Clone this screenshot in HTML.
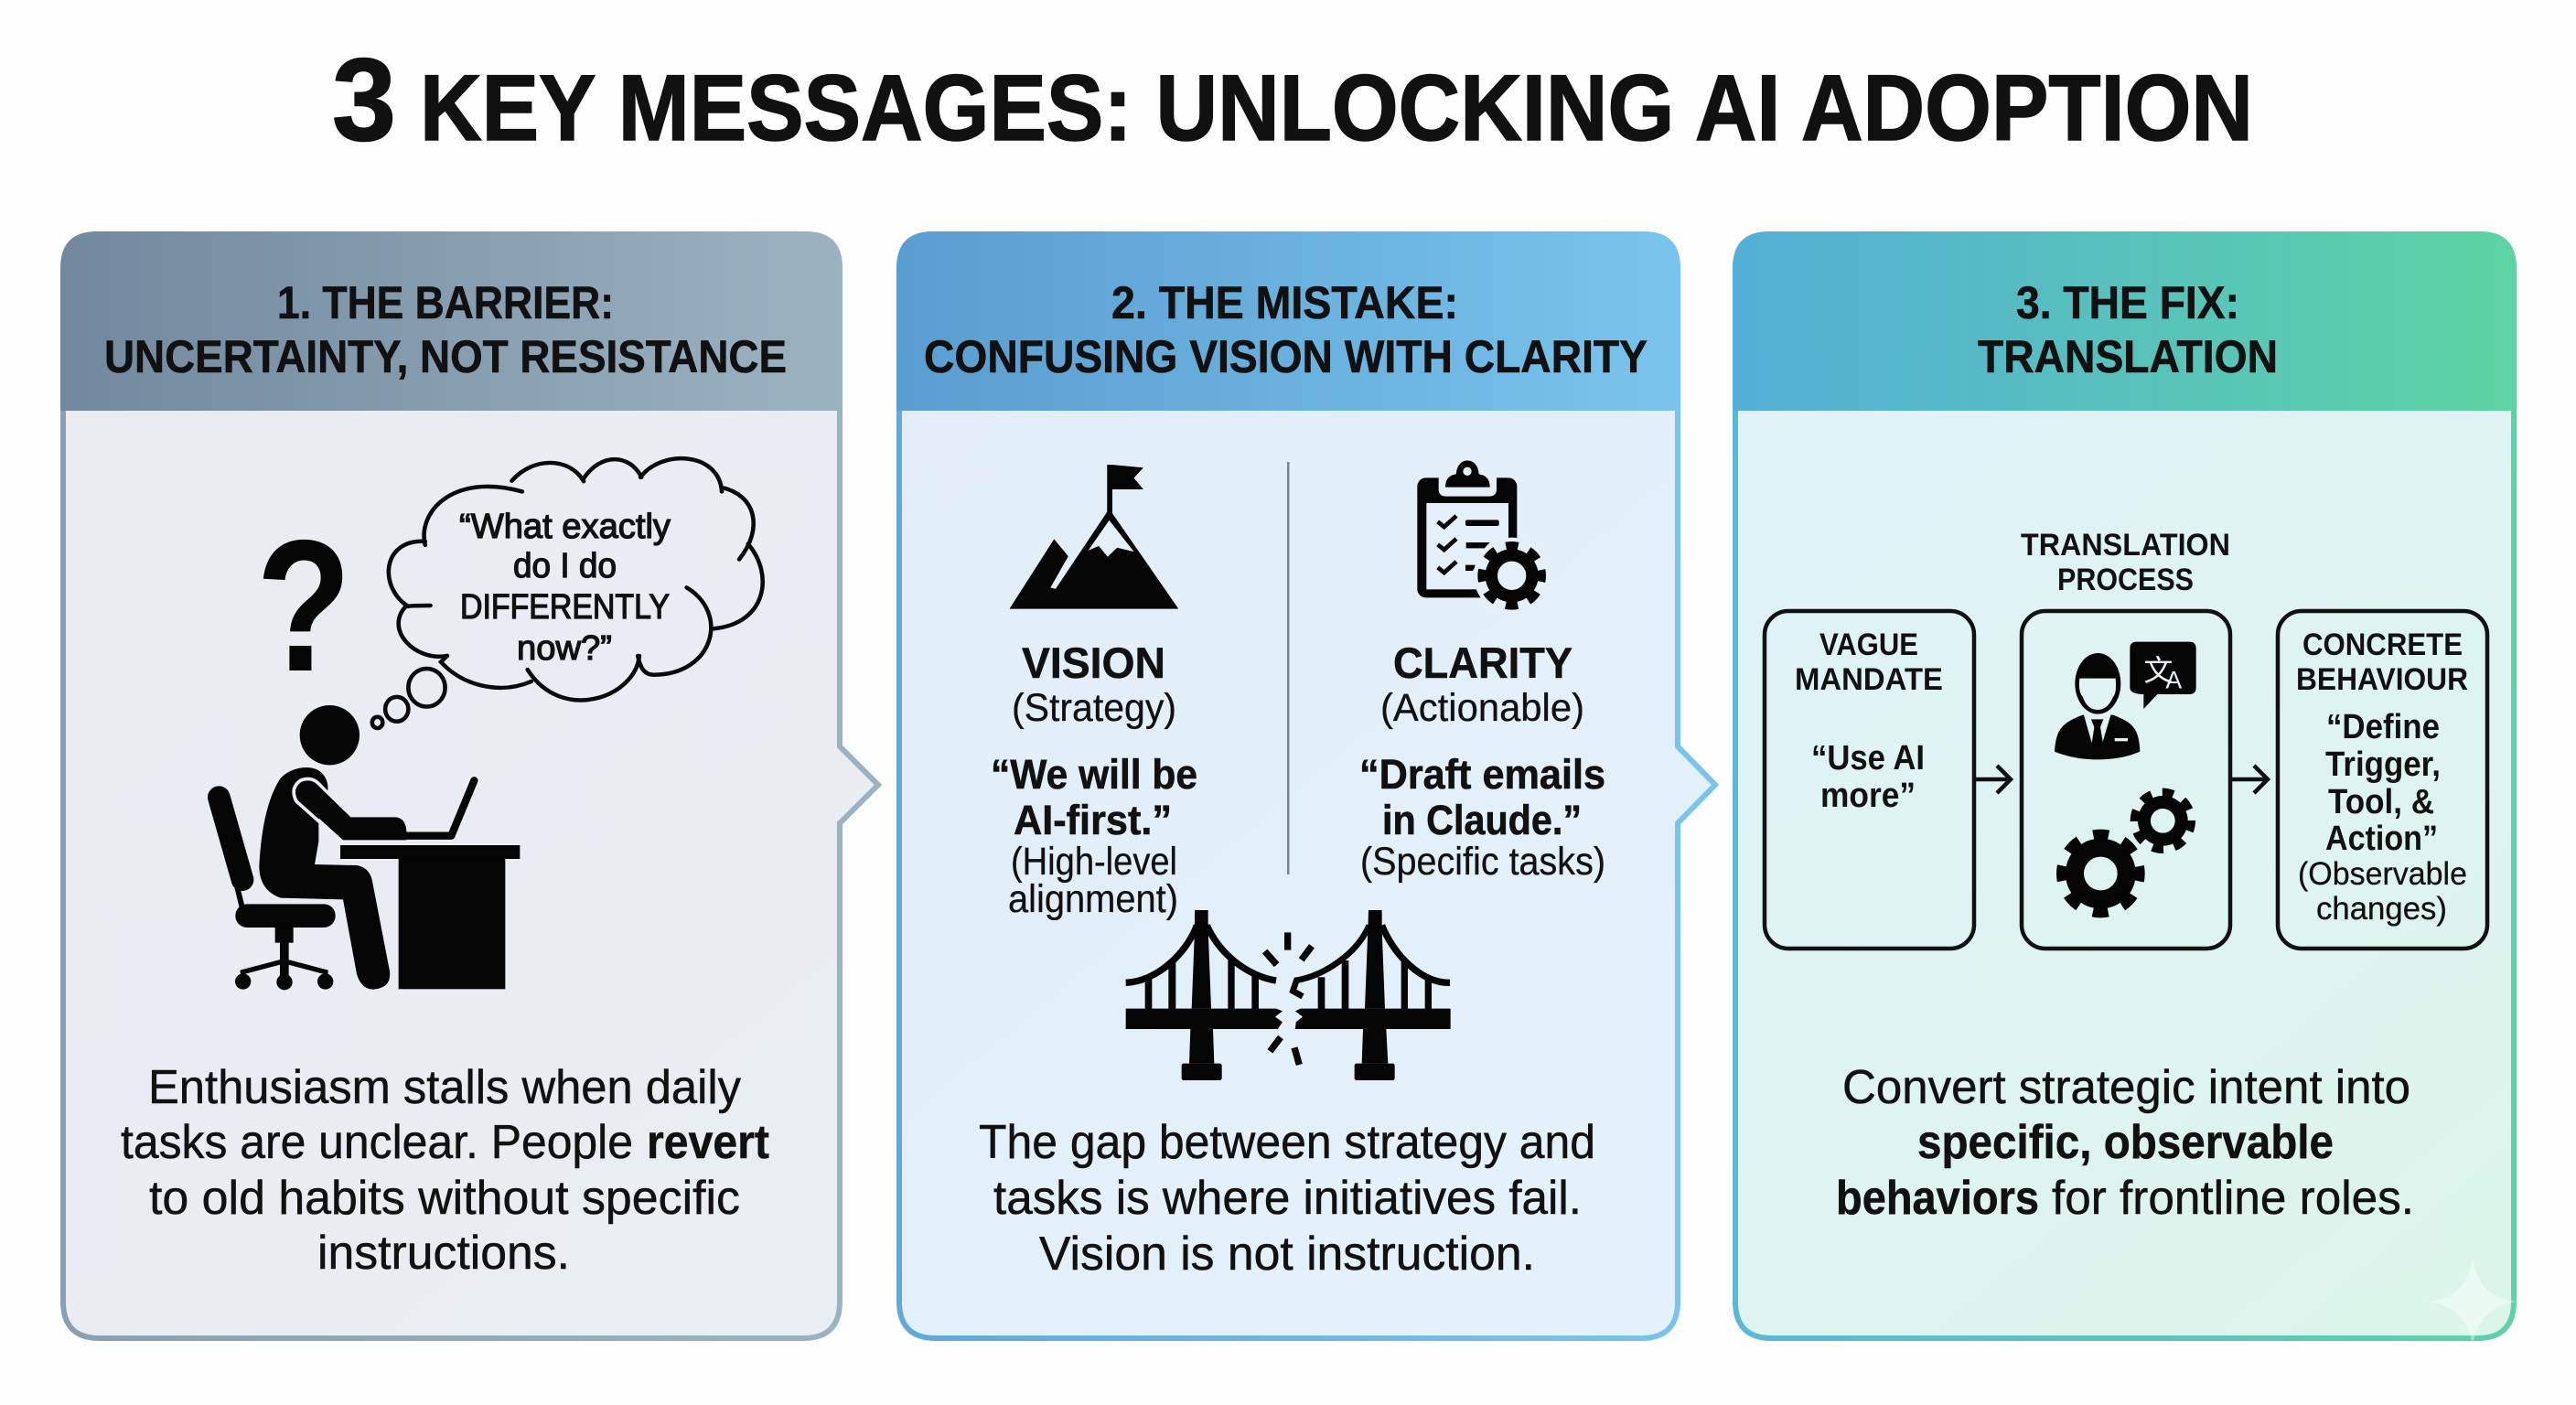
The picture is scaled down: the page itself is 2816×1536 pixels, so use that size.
<!DOCTYPE html>
<html><head><meta charset="utf-8"><style>
html,body{margin:0;padding:0;background:#fefefe;width:2816px;height:1536px;overflow:hidden}
svg{display:block}
text{font-family:"Liberation Sans","Noto Sans CJK SC",sans-serif;fill:#111}
.h{font-size:50px;font-weight:700;stroke:#111;stroke-width:.6}
.b{font-size:52px;stroke:#111;stroke-width:.5}
.bb{font-size:52px;font-weight:700;stroke:#111;stroke-width:.5}
.c{font-size:38px;stroke:#111;stroke-width:1.3}
.t{font-size:47px;font-weight:700;stroke:#111;stroke-width:.5}
.s{font-size:43px;stroke:#111;stroke-width:.3}
.q{font-size:45px;font-weight:700;stroke:#111;stroke-width:.6}
.l{font-size:34px;font-weight:700}
.m{font-size:38px;font-weight:700}
.o{font-size:35px;stroke:#111;stroke-width:.3}
</style></head><body>
<svg width="2816" height="1536" viewBox="0 0 2816 1536" xmlns="http://www.w3.org/2000/svg">
<defs>
<linearGradient id="h1" gradientUnits="userSpaceOnUse" x1="66" y1="0" x2="921" y2="0"><stop offset="0" stop-color="#71889e"/><stop offset="1" stop-color="#9bb3c1"/></linearGradient>
<linearGradient id="h2" gradientUnits="userSpaceOnUse" x1="980" y1="0" x2="1837" y2="0"><stop offset="0" stop-color="#5a9dd0"/><stop offset="1" stop-color="#79c4ec"/></linearGradient>
<linearGradient id="h3" gradientUnits="userSpaceOnUse" x1="1894" y1="0" x2="2751" y2="0"><stop offset="0" stop-color="#53afd6"/><stop offset="1" stop-color="#5dd3a2"/></linearGradient>
<linearGradient id="s1" gradientUnits="userSpaceOnUse" x1="66" y1="0" x2="921" y2="0"><stop offset="0" stop-color="#8aa0b2"/><stop offset="1" stop-color="#9bb3c1"/></linearGradient>
<linearGradient id="s2" gradientUnits="userSpaceOnUse" x1="980" y1="0" x2="1837" y2="0"><stop offset="0" stop-color="#62a8d8"/><stop offset="1" stop-color="#79c4ec"/></linearGradient>
<linearGradient id="s3" gradientUnits="userSpaceOnUse" x1="1894" y1="0" x2="2751" y2="0"><stop offset="0" stop-color="#5ab7d6"/><stop offset="1" stop-color="#5dd3a6"/></linearGradient>
<linearGradient id="f1" gradientUnits="userSpaceOnUse" x1="66" y1="449" x2="921" y2="1466"><stop offset="0" stop-color="#e9ebf1"/><stop offset="1" stop-color="#e9eef2"/></linearGradient>
<linearGradient id="f2" gradientUnits="userSpaceOnUse" x1="980" y1="449" x2="1837" y2="1466"><stop offset="0" stop-color="#e2edf8"/><stop offset="1" stop-color="#e3f2fa"/></linearGradient>
<linearGradient id="f3" gradientUnits="userSpaceOnUse" x1="1894" y1="449" x2="2751" y2="1466"><stop offset="0" stop-color="#e0f2f7"/><stop offset="1" stop-color="#dcf5ea"/></linearGradient>
</defs>
<rect width="2816" height="1536" fill="#fefefe"/>

<!-- title -->
<text x="363" y="153" font-size="128" font-weight="700" stroke="#111" stroke-width="1.5" textLength="70" lengthAdjust="spacingAndGlyphs">3</text>
<text x="459" y="153" font-size="102" font-weight="700" stroke="#111" stroke-width="1.5" textLength="2004" lengthAdjust="spacingAndGlyphs">KEY MESSAGES: UNLOCKING AI ADOPTION</text>

<!-- panel 1 -->
<path d="M109 256H878Q918 256 918 296V816L960 858L918 900V1423Q918 1463 878 1463H109Q69 1463 69 1423V296Q69 256 109 256Z" fill="url(#f1)" stroke="url(#s1)" stroke-width="6"/>
<path d="M66 449V293Q66 253 106 253H881Q921 253 921 293V449Z" fill="url(#h1)"/>
<!-- panel 2 -->
<path d="M1023 256H1794Q1834 256 1834 296V816L1875 858L1834 900V1423Q1834 1463 1794 1463H1023Q983 1463 983 1423V296Q983 256 1023 256Z" fill="url(#f2)" stroke="url(#s2)" stroke-width="6"/>
<path d="M980 449V293Q980 253 1020 253H1797Q1837 253 1837 293V449Z" fill="url(#h2)"/>
<!-- panel 3 -->
<path d="M1937 256H2708Q2748 256 2748 296V1423Q2748 1463 2708 1463H1937Q1897 1463 1897 1423V296Q1897 256 1937 256Z" fill="url(#f3)" stroke="url(#s3)" stroke-width="6"/>
<path d="M1894 449V293Q1894 253 1934 253H2711Q2751 253 2751 293V449Z" fill="url(#h3)"/>

<!-- headers -->
<text class="h" x="303" y="348" textLength="368" lengthAdjust="spacingAndGlyphs">1. THE BARRIER:</text>
<text class="h" x="114" y="407" textLength="746" lengthAdjust="spacingAndGlyphs">UNCERTAINTY, NOT RESISTANCE</text>
<text class="h" x="1215" y="348" textLength="379" lengthAdjust="spacingAndGlyphs">2. THE MISTAKE:</text>
<text class="h" x="1010" y="407" textLength="791" lengthAdjust="spacingAndGlyphs">CONFUSING VISION WITH CLARITY</text>
<text class="h" x="2204" y="348" textLength="244" lengthAdjust="spacingAndGlyphs">3. THE FIX:</text>
<text class="h" x="2162" y="407" textLength="328" lengthAdjust="spacingAndGlyphs">TRANSLATION</text>

<!-- cloud -->
<g transform="translate(40 230) scale(.574 .561)" fill="none" stroke="#0a0a0a" stroke-width="8" stroke-linecap="round">
<path d="M740 652C725 590 790 510 925 548"/>
<path d="M905 527C945 480 1015 480 1042 528"/>
<path d="M1040 525C1075 470 1130 475 1152 520"/>
<path d="M1150 520C1190 465 1300 470 1305 548"/>
<path d="M1305 540C1370 555 1385 620 1338 680"/>
<path d="M1355 650C1405 710 1390 805 1290 815"/>
<path d="M1238 735C1320 785 1290 905 1175 905C1160 905 1150 895 1145 868"/>
<path d="M1148 868C1140 950 1000 1000 935 895"/>
<path d="M942 918C880 945 810 925 770 880L782 868"/>
<path d="M782 868C720 880 660 815 705 770"/>
<path d="M750 770C725 770 712 770 702 772"/>
<path d="M705 770C650 730 660 640 740 645"/>
<ellipse cx="743" cy="930" rx="35" ry="37"/>
<ellipse cx="686" cy="972" rx="22" ry="24"/>
<ellipse cx="649" cy="998" rx="10" ry="11"/>
</g>
<text class="c" x="502" y="588" textLength="231" lengthAdjust="spacingAndGlyphs">“What exactly</text>
<text class="c" x="561" y="631" textLength="113" lengthAdjust="spacingAndGlyphs">do I do</text>
<text class="c" x="503" y="676" textLength="229" lengthAdjust="spacingAndGlyphs">DIFFERENTLY</text>
<text class="c" x="565" y="721" textLength="104" lengthAdjust="spacingAndGlyphs">now?”</text>
<text x="280" y="733" font-size="205" font-weight="700" textLength="104" lengthAdjust="spacingAndGlyphs" style="fill:#050505">?</text>

<!-- person at desk -->
<g transform="translate(200 740) scale(.33333)" fill="#050505">
<circle cx="481" cy="191" r="98"/>
<path d="M315 340C340 300 420 280 455 315C480 340 475 370 475 370L445 470L445 540L432 615L570 618Q610 625 620 665L678 965Q685 1020 625 1025Q585 1025 570 975L525 730L320 725Q250 700 250 620Q260 430 315 340Z"/>
<path d="M520 540L372 408Q350 365 385 340Q420 325 445 350L485 392" fill="none" stroke="#e9ecf1" stroke-width="11"/>
<path d="M378 402Q356 368 388 346Q420 332 442 355L550 460H700Q730 465 733 505V535H525Z"/>
<path d="M955 340L880 521H733" fill="none" stroke="#050505" stroke-width="25" stroke-linecap="round" stroke-linejoin="round"/>
<rect x="516" y="552" width="589" height="45"/>
<rect x="707" y="597" width="350" height="427"/>
<path d="M118 395L195 665" stroke="#050505" stroke-width="74" stroke-linecap="round"/>
<path d="M178 690L195 760" stroke="#050505" stroke-width="18"/>
<rect x="172" y="745" width="328" height="77" rx="38"/>
<rect x="302" y="820" width="60" height="52"/>
<rect x="318" y="870" width="29" height="130"/>
<path d="M198 990L196 968L332 932L468 968L467 990" fill="none" stroke="#050505" stroke-width="16"/>
<circle cx="197" cy="999" r="26"/><circle cx="333" cy="1001" r="26"/><circle cx="467" cy="999" r="26"/>
</g>

<!-- panel 1 body -->
<text class="b" x="162" y="1206" textLength="648" lengthAdjust="spacingAndGlyphs">Enthusiasm stalls when daily</text>
<text class="b" x="132" y="1266" textLength="560" lengthAdjust="spacingAndGlyphs">tasks are unclear. People</text>
<text class="bb" x="707" y="1266" textLength="134" lengthAdjust="spacingAndGlyphs">revert</text>
<text class="b" x="163" y="1327" textLength="646" lengthAdjust="spacingAndGlyphs">to old habits without specific</text>
<text class="b" x="347" y="1387" textLength="276" lengthAdjust="spacingAndGlyphs">instructions.</text>

<!-- mountain -->
<g transform="translate(960 230) scale(.574 .625)" fill="#050505">
<rect x="436" y="445" width="10" height="85"/>
<path d="M446 445L505 450L487 468L505 488H446Z"/>
<path d="M250 697L335 575L362 605L328 660L338 662L440 522L572 697Z"/>
<path d="M440 542L400 595L420 587L437 606L455 590L487 597Z" fill="#e3eff9"/>
</g>
<rect x="1407" y="505" width="2.5" height="451" fill="#7d8489"/>

<!-- clipboard -->
<g transform="translate(1530 490) scale(.33333)" fill="#050505">
<rect x="58" y="97" width="327" height="393" rx="28"/>
<rect x="88" y="180" width="269" height="283" fill="#e3f0f9"/>
<path d="M128 90H318V135Q318 158 292 158H154Q128 158 128 135Z" fill="#e3f0f9"/>
<path d="M150 128Q150 90 185 85Q190 42 222 40Q256 42 260 85Q296 90 296 128Z"/>
<circle cx="222" cy="76" r="14" fill="#e3f0f9"/>
<g fill="none" stroke="#050505" stroke-width="14">
<path d="M125 241L146 258L186 222"/><path d="M125 316L146 333L186 297"/><path d="M125 391L146 408L186 372"/>
</g>
<rect x="216" y="235" width="110" height="20" rx="6"/>
<path d="M218 309H296L278 328H218Z"/>
<path d="M216 383H252L240 402H216Z"/>
<circle cx="368" cy="418" r="125" fill="#e3f0f9"/>
<g fill="none" stroke="#050505">
<circle cx="368" cy="418" r="67" stroke-width="40"/>
<circle cx="368" cy="418" r="98" stroke-width="28" stroke-dasharray="40 36.97" stroke-dashoffset="20"/>
</g>
</g>

<!-- panel 2 texts -->
<text class="t" x="1117" y="741" textLength="157" lengthAdjust="spacingAndGlyphs">VISION</text>
<text class="s" x="1106" y="788" textLength="180" lengthAdjust="spacingAndGlyphs">(Strategy)</text>
<text class="q" x="1083" y="862" textLength="226" lengthAdjust="spacingAndGlyphs">“We will be</text>
<text class="q" x="1108" y="912" textLength="173" lengthAdjust="spacingAndGlyphs">AI-first.”</text>
<text class="s" x="1105" y="956" textLength="182" lengthAdjust="spacingAndGlyphs">(High-level</text>
<text class="s" x="1102" y="997" textLength="186" lengthAdjust="spacingAndGlyphs">alignment)</text>
<text class="t" x="1523" y="741" textLength="196" lengthAdjust="spacingAndGlyphs">CLARITY</text>
<text class="s" x="1509" y="788" textLength="223" lengthAdjust="spacingAndGlyphs">(Actionable)</text>
<text class="q" x="1486" y="862" textLength="269" lengthAdjust="spacingAndGlyphs">“Draft emails</text>
<text class="q" x="1511" y="912" textLength="218" lengthAdjust="spacingAndGlyphs">in Claude.”</text>
<text class="s" x="1487" y="956" textLength="268" lengthAdjust="spacingAndGlyphs">(Specific tasks)</text>

<!-- bridge -->
<g transform="translate(1200 980) scale(.33333)" fill="#050505">
<path d="M92 368H585L606 376L582 395L606 412L590 435H92Z"/>
<path d="M318 45H362V110L372 368H308L318 110Z"/>
<path d="M304 435H378L382 548H300Z"/>
<rect x="275" y="548" width="132" height="55" rx="7"/>
<path d="M92 283C190 280 290 190 325 95M358 95C400 190 490 260 585 276" fill="none" stroke="#050505" stroke-width="22"/>
<rect x="155" y="270" width="23" height="100"/><rect x="232" y="215" width="24" height="155"/><rect x="427" y="205" width="22" height="165"/><rect x="505" y="255" width="23" height="115"/>
<path d="M1157 368H665L648 376L672 395L650 412L648 435H1157Z"/>
<path d="M888 45H932V110L942 368H876L886 110Z"/>
<path d="M870 435H946L952 548H866Z"/>
<rect x="842" y="548" width="132" height="55" rx="7"/>
<path d="M890 95C850 190 740 260 652 275L640 310L672 328" fill="none" stroke="#050505" stroke-width="20"/>
<path d="M932 95C970 190 1060 285 1155 283" fill="none" stroke="#050505" stroke-width="22"/>
<rect x="722" y="265" width="23" height="105"/><rect x="800" y="210" width="23" height="160"/><rect x="995" y="215" width="22" height="155"/><rect x="1073" y="270" width="22" height="100"/>
<g stroke="#050505" stroke-width="22" fill="none">
<path d="M623 118V176M548 180L587 224M702 163L668 208M600 462L565 508M645 496L661 552"/>
</g>
</g>
<text class="b" x="1070" y="1266" textLength="674" lengthAdjust="spacingAndGlyphs">The gap between strategy and</text>
<text class="b" x="1086" y="1327" textLength="643" lengthAdjust="spacingAndGlyphs">tasks is where initiatives fail.</text>
<text class="b" x="1136" y="1388" textLength="542" lengthAdjust="spacingAndGlyphs">Vision is not instruction.</text>

<!-- panel 3 diagram -->
<text class="l" x="2209" y="607" textLength="229" lengthAdjust="spacingAndGlyphs">TRANSLATION</text>
<text class="l" x="2249" y="645" textLength="149" lengthAdjust="spacingAndGlyphs">PROCESS</text>
<g fill="none" stroke="#111" stroke-width="4.5">
<rect x="1929" y="668" width="229" height="369" rx="26"/>
<rect x="2210" y="668" width="228" height="369" rx="26"/>
<rect x="2490" y="668" width="229" height="369" rx="26"/>
<path d="M2160 852H2198M2183 837L2198 852L2183 867"/>
<path d="M2439 852H2479M2464 837L2479 852L2464 867"/>
</g>
<text class="l" x="1989" y="716" textLength="108" lengthAdjust="spacingAndGlyphs">VAGUE</text>
<text class="l" x="1962" y="754" textLength="162" lengthAdjust="spacingAndGlyphs">MANDATE</text>
<text class="m" x="1980" y="841" textLength="124" lengthAdjust="spacingAndGlyphs">“Use AI</text>
<text class="m" x="1990" y="882" textLength="104" lengthAdjust="spacingAndGlyphs">more”</text>
<text class="l" x="2517" y="716" textLength="175" lengthAdjust="spacingAndGlyphs">CONCRETE</text>
<text class="l" x="2510" y="754" textLength="188" lengthAdjust="spacingAndGlyphs">BEHAVIOUR</text>
<text class="m" x="2543" y="807" textLength="124" lengthAdjust="spacingAndGlyphs">“Define</text>
<text class="m" x="2542" y="848" textLength="126" lengthAdjust="spacingAndGlyphs">Trigger,</text>
<text class="m" x="2545" y="889" textLength="116" lengthAdjust="spacingAndGlyphs">Tool, &amp;</text>
<text class="m" x="2542" y="929" textLength="123" lengthAdjust="spacingAndGlyphs">Action”</text>
<text class="o" x="2512" y="967" textLength="185" lengthAdjust="spacingAndGlyphs">(Observable</text>
<text class="o" x="2532" y="1005" textLength="143" lengthAdjust="spacingAndGlyphs">changes)</text>

<!-- translator icon -->
<g transform="translate(2230 690) scale(.33333)" fill="#050505">
<path d="M295 57Q295 35 317 35H490Q512 35 512 57V185Q512 207 490 207H385L340 255V207Q295 207 295 185Z"/>
<text x="340" y="162" font-size="96" style="fill:#e6f5f3" font-family="Noto Sans CJK SC">文</text>
<text x="412" y="187" font-size="80" style="fill:#e6f5f3">A</text>
<ellipse cx="190" cy="172" rx="75" ry="100"/>
<path d="M130 155H248Q252 205 240 215Q222 258 190 258Q155 258 140 215Q125 200 130 155Z" fill="#e2f3f3"/>
<path d="M48 395C52 320 75 300 140 275H240C305 300 325 320 328 395C250 430 130 430 48 395Z"/>
<path d="M143 272H233L205 366H170Z" fill="#e2f3f3"/>
<path d="M168 289H208L198 315L207 368H170L178 315Z"/>
<rect x="245" y="351" width="43" height="10" fill="#e2f3f3"/>
<g fill="none" stroke="#050505">
<circle cx="199" cy="795" r="85" stroke-width="60"/>
<circle cx="199" cy="795" r="127" stroke-width="36" stroke-dasharray="50 49.75" stroke-dashoffset="25"/>
<g transform="rotate(10 403 622)">
<circle cx="403" cy="622" r="61" stroke-width="42"/>
<circle cx="403" cy="622" r="93" stroke-width="28" stroke-dasharray="37 36.04" stroke-dashoffset="18.5"/>
</g>
</g>
</g>

<text class="b" x="2014" y="1206" textLength="621" lengthAdjust="spacingAndGlyphs">Convert strategic intent into</text>
<text class="bb" x="2096" y="1266" textLength="455" lengthAdjust="spacingAndGlyphs">specific, observable</text>
<text class="bb" x="2007" y="1327" textLength="222" lengthAdjust="spacingAndGlyphs">behaviors</text>
<text class="b" x="2243" y="1327" textLength="396" lengthAdjust="spacingAndGlyphs">for frontline roles.</text>

<!-- sparkle -->
<path d="M2703 1376C2708 1405 2722 1419 2751 1423C2722 1428 2708 1442 2703 1471C2698 1442 2684 1428 2655 1423C2684 1419 2698 1405 2703 1376Z" fill="#fff" fill-opacity=".4"/>
</svg>
</body></html>
